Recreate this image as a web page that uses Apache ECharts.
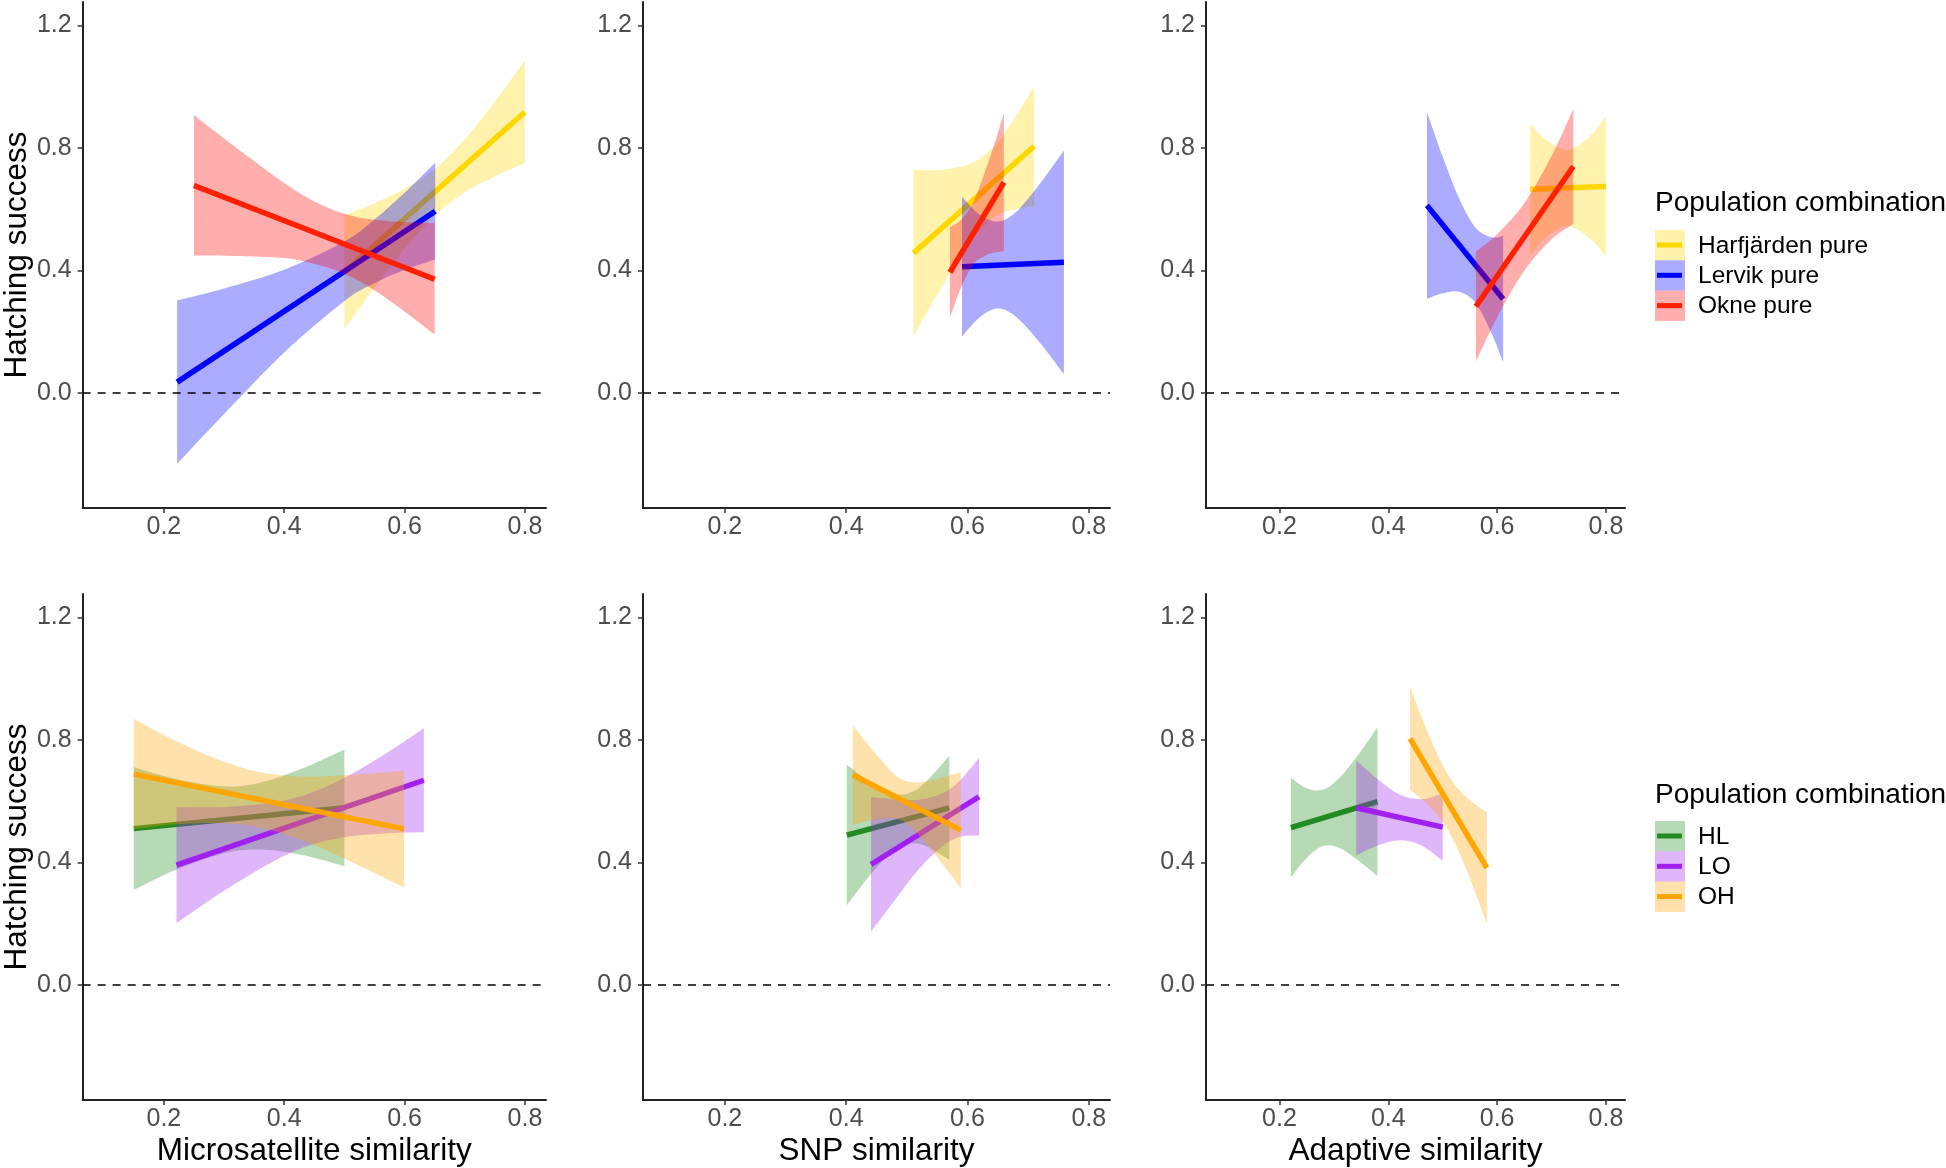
<!DOCTYPE html>
<html><head><meta charset="utf-8">
<script src="https://cdn.jsdelivr.net/npm/echarts@6/dist/echarts.min.js"></script>
<style>html,body{margin:0;padding:0;background:#fff}#chart{width:1946px;height:1168px}</style>
</head><body><div id="chart"></div>
<script>
const FONT = 'Liberation Sans, Arial, Helvetica, sans-serif';
const xTicks = [0.2, 0.4, 0.6, 0.8];
const yTicks = [0.0, 0.4, 0.8, 1.2];
const xTitles = ['Microsatellite similarity', 'SNP similarity', 'Adaptive similarity'];
const yTitle = 'Hatching success';
const legendTitle = 'Population combination';
const pureNames = ['Harfjärden pure', 'Lervik pure', 'Okne pure'];
const hybridNames = ['HL', 'LO', 'OH'];
const pureColors = ['#FFD700', '#0000FF', '#FF2000'];
const pureFills = ['rgba(255,215,0,0.32)', 'rgba(0,0,255,0.33)', 'rgba(255,0,0,0.32)'];
const hybridColors = ['#228B22', '#A020F0', '#FFA500'];
const hybridFills = ['rgba(34,139,34,0.33)', 'rgba(160,32,240,0.33)', 'rgba(255,165,0,0.33)'];

// ---- Microsatellite similarity, pure populations: line ends [x,y]; band [x, lower, upper]
const msH_line = [[0.500, 0.394], [0.800, 0.917]];
const msH_band = [[0.50, 0.208, 0.580], [0.55, 0.343, 0.619], [0.60, 0.470, 0.666], [0.65, 0.578, 0.730], [0.70, 0.654, 0.828], [0.75, 0.706, 0.950], [0.80, 0.750, 1.086]];
const msL_line = [[0.222, 0.035], [0.651, 0.593]];
const msL_band = [[0.222, -0.232, 0.302], [0.30, -0.069, 0.341], [0.40, 0.132, 0.402], [0.50, 0.300, 0.494], [0.55, 0.358, 0.566], [0.60, 0.401, 0.653], [0.651, 0.435, 0.751]];
const msO_line = [[0.250, 0.677], [0.650, 0.371]];
const msO_band = [[0.25, 0.448, 0.906], [0.317, 0.447, 0.805], [0.40, 0.440, 0.685], [0.455, 0.418, 0.620], [0.51, 0.380, 0.579], [0.566, 0.314, 0.562], [0.65, 0.191, 0.554]];

// ---- SNP similarity, pure
const snpH_line = [[0.511, 0.456], [0.710, 0.805]];
const snpH_band = [[0.511, 0.184, 0.728], [0.55, 0.321, 0.727], [0.60, 0.479, 0.745], [0.633, 0.555, 0.785], [0.66, 0.590, 0.844], [0.71, 0.611, 0.999]];
const snpL_line = [[0.591, 0.412], [0.759, 0.426]];
const snpL_band = [[0.591, 0.184, 0.640], [0.62, 0.246, 0.582], [0.65, 0.275, 0.559], [0.68, 0.248, 0.590], [0.72, 0.162, 0.684], [0.759, 0.061, 0.791]];
const snpO_line = [[0.571, 0.393], [0.660, 0.687]];
const snpO_band = [[0.571, 0.245, 0.541], [0.59, 0.346, 0.566], [0.61, 0.420, 0.624], [0.63, 0.448, 0.728], [0.645, 0.458, 0.816], [0.66, 0.462, 0.912]];

// ---- Adaptive similarity, pure
const adH_line = [[0.661, 0.665], [0.800, 0.674]];
const adH_band = [[0.661, 0.451, 0.879], [0.69, 0.508, 0.826], [0.73, 0.544, 0.794], [0.77, 0.505, 0.837], [0.80, 0.446, 0.902]];
const adL_line = [[0.471, 0.612], [0.611, 0.306]];
const adL_band = [[0.471, 0.307, 0.917], [0.50, 0.325, 0.771], [0.53, 0.330, 0.636], [0.56, 0.294, 0.540], [0.59, 0.194, 0.508], [0.611, 0.100, 0.512]];
const adO_line = [[0.561, 0.282], [0.740, 0.739]];
const adO_band = [[0.561, 0.102, 0.462], [0.60, 0.246, 0.518], [0.65, 0.399, 0.619], [0.70, 0.501, 0.773], [0.74, 0.551, 0.927]];

// ---- Microsatellite similarity, hybrids
const msHL_line = [[0.150, 0.510], [0.500, 0.578]];
const msHL_band = [[0.15, 0.310, 0.710], [0.22, 0.376, 0.672], [0.30, 0.430, 0.648], [0.36, 0.442, 0.660], [0.43, 0.424, 0.706], [0.50, 0.388, 0.768]];
const msLO_line = [[0.221, 0.391], [0.632, 0.668]];
const msLO_band = [[0.221, 0.201, 0.581], [0.30, 0.307, 0.581], [0.38, 0.401, 0.595], [0.44, 0.454, 0.624], [0.50, 0.482, 0.676], [0.57, 0.495, 0.757], [0.632, 0.498, 0.838]];
const msOH_line = [[0.150, 0.688], [0.599, 0.509]];
const msOH_band = [[0.15, 0.508, 0.868], [0.22, 0.524, 0.796], [0.29, 0.528, 0.736], [0.36, 0.514, 0.694], [0.43, 0.472, 0.680], [0.51, 0.403, 0.685], [0.599, 0.319, 0.699]];

// ---- SNP similarity, hybrids
const snpHL_line = [[0.401, 0.489], [0.570, 0.578]];
const snpHL_band = [[0.401, 0.259, 0.719], [0.44, 0.359, 0.661], [0.48, 0.440, 0.622], [0.52, 0.461, 0.643], [0.57, 0.409, 0.747]];
const snpLO_line = [[0.441, 0.393], [0.619, 0.614]];
const snpLO_band = [[0.441, 0.173, 0.613], [0.48, 0.276, 0.606], [0.52, 0.378, 0.604], [0.56, 0.454, 0.626], [0.59, 0.484, 0.672], [0.619, 0.487, 0.741]];
const snpOH_line = [[0.411, 0.685], [0.589, 0.505]];
const snpOH_band = [[0.411, 0.523, 0.847], [0.45, 0.540, 0.752], [0.49, 0.538, 0.672], [0.53, 0.466, 0.664], [0.589, 0.316, 0.694]];

// ---- Adaptive similarity, hybrids
const adHL_line = [[0.221, 0.513], [0.380, 0.598]];
const adHL_band = [[0.221, 0.351, 0.675], [0.25, 0.414, 0.642], [0.28, 0.453, 0.637], [0.31, 0.447, 0.675], [0.345, 0.406, 0.752], [0.38, 0.355, 0.841]];
const adLO_line = [[0.341, 0.578], [0.500, 0.515]];
const adLO_band = [[0.341, 0.423, 0.733], [0.38, 0.454, 0.672], [0.42, 0.472, 0.622], [0.46, 0.456, 0.606], [0.50, 0.405, 0.625]];
const adOH_line = [[0.440, 0.804], [0.581, 0.382]];
const adOH_band = [[0.44, 0.635, 0.973], [0.475, 0.584, 0.814], [0.51, 0.505, 0.685], [0.545, 0.370, 0.610], [0.581, 0.200, 0.564]];

const panels = [
  { row: 0, col: 0, lines: [msH_line, msL_line, msO_line], bands: [msH_band, msL_band, msO_band] },
  { row: 0, col: 1, lines: [snpH_line, snpL_line, snpO_line], bands: [snpH_band, snpL_band, snpO_band] },
  { row: 0, col: 2, lines: [adH_line, adL_line, adO_line], bands: [adH_band, adL_band, adO_band] },
  { row: 1, col: 0, lines: [msHL_line, msLO_line, msOH_line], bands: [msHL_band, msLO_band, msOH_band] },
  { row: 1, col: 1, lines: [snpHL_line, snpLO_line, snpOH_line], bands: [snpHL_band, snpLO_band, snpOH_band] },
  { row: 1, col: 2, lines: [adHL_line, adLO_line, adOH_line], bands: [adHL_band, adLO_band, adOH_band] }
];

const gridLefts = [81, 643, 1206];
const gridWidths = [465, 467, 419];
const gridTops = [2, 594];
const gridHeight = 506;

function curve(pts) {
  let s = '';
  for (let i = 0; i < pts.length - 1; i++) {
    const p0 = pts[Math.max(i - 1, 0)], p1 = pts[i], p2 = pts[i + 1], p3 = pts[Math.min(i + 2, pts.length - 1)];
    const c1 = [p1[0] + (p2[0] - p0[0]) / 6, p1[1] + (p2[1] - p0[1]) / 6];
    const c2 = [p2[0] - (p3[0] - p1[0]) / 6, p2[1] - (p3[1] - p1[1]) / 6];
    s += 'C' + c1[0] + ',' + c1[1] + ' ' + c2[0] + ',' + c2[1] + ' ' + p2[0] + ',' + p2[1];
  }
  return s;
}
function bandRenderer(band, fill) {
  return function (params, api) {
    if (params.dataIndex !== 0) return null;
    const up = band.map(p => api.coord([p[0], p[2]]));
    const lo = band.map(p => api.coord([p[0], p[1]])).reverse();
    const d = 'M' + up[0][0] + ',' + up[0][1] + curve(up) + 'L' + lo[0][0] + ',' + lo[0][1] + curve(lo) + 'Z';
    return { type: 'path', shape: { pathData: d }, style: { fill: fill, stroke: null } };
  };
}

const grids = [], xAxes = [], yAxes = [], series = [];
panels.forEach((p, i) => {
  grids.push({ left: gridLefts[p.col], width: gridWidths[p.col], top: gridTops[p.row], height: gridHeight, containLabel: false });
  xAxes.push({
    gridIndex: i, type: 'value', min: 0.065, max: 0.835,
    axisLine: { show: true, onZero: false, lineStyle: { color: '#222', width: 2 } },
    axisTick: { show: true, length: 5, customValues: xTicks, lineStyle: { color: '#333', width: 1.5 } },
    axisLabel: { customValues: xTicks, formatter: v => v.toFixed(1), color: '#4D4D4D', fontSize: 25, margin: 7, fontFamily: FONT },
    splitLine: { show: false },
    name: p.row === 1 ? xTitles[p.col] : '', nameLocation: 'middle', nameGap: 35,
    nameTextStyle: { fontSize: 31.5, color: '#000', fontFamily: FONT }
  });
  yAxes.push({
    gridIndex: i, type: 'value', min: -0.376, max: 1.276,
    axisLine: { show: true, onZero: false, lineStyle: { color: '#222', width: 2 } },
    axisTick: { show: true, length: 5, customValues: yTicks, lineStyle: { color: '#333', width: 1.5 } },
    axisLabel: { customValues: yTicks, formatter: v => v.toFixed(1), color: '#4D4D4D', fontSize: 25, margin: 11, fontFamily: FONT },
    splitLine: { show: false },
    name: p.col === 0 ? yTitle : '', nameLocation: 'middle', nameGap: 48, nameRotate: 90,
    nameTextStyle: { fontSize: 31.5, color: '#000', fontFamily: FONT }
  });
  const colors = p.row === 0 ? pureColors : hybridColors;
  const fills = p.row === 0 ? pureFills : hybridFills;
  const names = p.row === 0 ? pureNames : hybridNames;
  for (let k = 0; k < 3; k++) {
    series.push({
      type: 'custom', name: names[k] + ' CI', xAxisIndex: i, yAxisIndex: i,
      data: p.bands[k], encode: { x: 0, y: [1, 2] },
      renderItem: bandRenderer(p.bands[k], fills[k]), z: 2 + 2 * k, silent: true
    });
    const ls = {
      type: 'line', name: names[k], xAxisIndex: i, yAxisIndex: i, data: p.lines[k],
      showSymbol: false, symbol: 'none', silent: true, z: 3 + 2 * k,
      lineStyle: { color: colors[k], width: 5.5, cap: 'butt' }
    };
    if (k === 0) {
      ls.markLine = {
        silent: true, symbol: 'none', z: 30, animation: false,
        label: { show: false },
        lineStyle: { type: [8, 7], color: '#000', width: 1.6 },
        data: [{ yAxis: 0 }]
      };
    }
    series.push(ls);
  }
});

// legend drawn as graphic elements (ggplot-style keys)
const graphics = [];
function addLegend(titleY, rowTop, names, colors, fills) {
  graphics.push({ type: 'text', x: 1655, y: titleY, style: { text: legendTitle, font: '28px ' + FONT, fill: '#000', verticalAlign: 'middle' } });
  names.forEach((n, k) => {
    const y0 = rowTop + 30.3 * k;
    graphics.push({ type: 'rect', shape: { x: 1655, y: y0, width: 30, height: 30.3 }, style: { fill: fills[k] } });
    graphics.push({ type: 'line', shape: { x1: 1657, y1: y0 + 15, x2: 1682, y2: y0 + 15 }, style: { stroke: colors[k], lineWidth: 5 } });
    graphics.push({ type: 'text', x: 1698, y: y0 + 16, style: { text: n, font: '24.5px ' + FONT, fill: '#000', verticalAlign: 'middle' } });
  });
}
addLegend(203, 230, pureNames, pureColors, pureFills);
addLegend(795, 821, hybridNames, hybridColors, hybridFills);

const chart = echarts.init(document.getElementById('chart'), null, { renderer: 'canvas' });
chart.setOption({
  animation: false,
  backgroundColor: '#fff',
  textStyle: { fontFamily: FONT },
  grid: grids, xAxis: xAxes, yAxis: yAxes, series: series,
  graphic: graphics
});
</script></body></html>
